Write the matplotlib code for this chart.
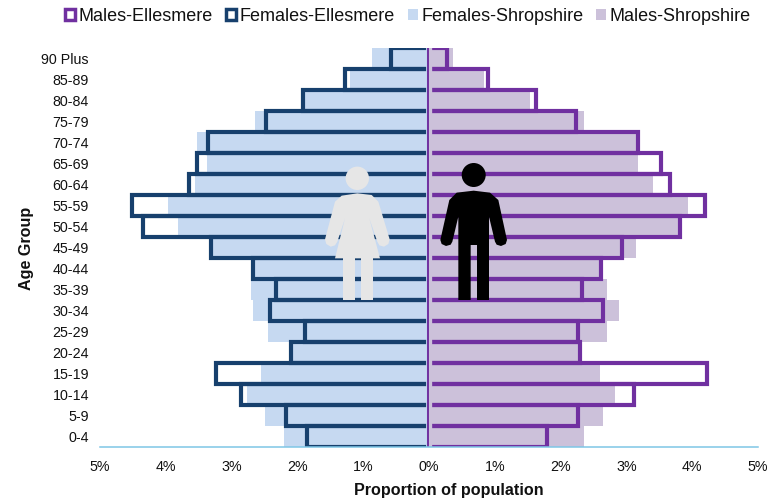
import matplotlib
matplotlib.use("Agg")
import matplotlib.pyplot as plt
from matplotlib.patches import Polygon, Circle, Rectangle
from matplotlib.ticker import FuncFormatter

plt.rcParams['font.family'] = ['Liberation Sans', 'DejaVu Sans']

age_groups = ['0-4','5-9','10-14','15-19','20-24','25-29','30-34','35-39','40-44','45-49',
              '50-54','55-59','60-64','65-69','70-74','75-79','80-84','85-89','90 Plus']
females_shropshire = [2.21,2.50,2.76,2.55,2.09,2.45,2.67,2.71,2.65,3.30,3.81,3.96,3.56,3.37,3.52,2.65,1.88,1.20,0.86]
males_shropshire   = [2.35,2.64,2.83,2.60,2.27,2.70,2.88,2.70,2.59,3.14,3.78,3.93,3.41,3.17,3.14,2.35,1.54,0.84,0.37]
females_ellesmere  = [1.85,2.18,2.86,3.23,2.10,1.89,2.41,2.33,2.67,3.32,4.35,4.52,3.64,3.52,3.36,2.48,1.92,1.27,0.58]
males_ellesmere    = [1.79,2.27,3.12,4.22,2.30,2.26,2.65,2.33,2.62,2.93,3.81,4.20,3.67,3.52,3.18,2.23,1.62,0.90,0.28]

C_FS, C_MS = '#c6d9f1', '#ccc1da'
C_FE, C_ME = '#17406d', '#7030a0'
W, H = 772, 500
fig = plt.figure(figsize=(W/100, H/100), dpi=100)
ax = fig.add_axes([100/W, 1-447/H, 658/W, 399.5/H])
y = list(range(len(age_groups)))

ax.barh(y, [-v for v in females_shropshire], height=1, color=C_FS, label='Females-Shropshire', zorder=1)
ax.barh(y, males_shropshire, height=1, color=C_MS, label='Males-Shropshire', zorder=1)
ax.barh(y, [-v for v in females_ellesmere], height=1, facecolor='none', edgecolor=C_FE, linewidth=3.0,
        label='Females-Ellesmere', zorder=2)
ax.barh(y, males_ellesmere, height=1, facecolor='none', edgecolor=C_ME, linewidth=3.0,
        label='Males-Ellesmere', zorder=3)
ax.axvline(0.015, color=C_MS, lw=2.4, zorder=4)
ax.axvline(-0.035, color=C_FS, lw=2.0, zorder=4)
ax.axvline(-0.012, color=C_ME, lw=1.4, zorder=5)

ax.set_xlim(-5, 5)
ax.set_ylim(-0.5, 18.5)
ax.set_yticks(y, age_groups)
ax.set_xticks(range(-5, 6))
ax.xaxis.set_major_formatter(FuncFormatter(lambda v, p: f'{abs(v):.0f}%'))
ax.tick_params(axis='both', length=0, labelsize=10.3, colors='#111111')
ax.tick_params(axis='x', pad=9.5)
ax.tick_params(axis='y', pad=8)
for s in ['top', 'left', 'right']:
    ax.spines[s].set_visible(False)
ax.spines['bottom'].set_color('#7fc6e6')
ax.spines['bottom'].set_linewidth(1.1)
ax.spines['bottom'].set_zorder(6)

fig.text(449/W, 1-491/H, 'Proportion of population', ha='center', va='center',
         fontsize=11.6, fontweight='bold', color='#111111')
fig.text(26.5/W, 1-248/H, 'Age Group', rotation=90, ha='center', va='center',
         fontsize=11.6, fontweight='bold', color='#111111')

h = [Rectangle((0,0),1,1, facecolor='white', edgecolor=C_ME, linewidth=2.5),
     Rectangle((0,0),1,1, facecolor='white', edgecolor=C_FE, linewidth=2.5),
     Rectangle((0,0),1,1, facecolor=C_FS, edgecolor='none'),
     Rectangle((0,0),1,1, facecolor=C_MS, edgecolor='none')]
l = ['Males-Ellesmere', 'Females-Ellesmere', 'Females-Shropshire', 'Males-Shropshire']
leg = fig.legend(h, l, ncol=4, loc='center', bbox_to_anchor=(408/W, 1-16.5/H), frameon=False,
                 fontsize=13, handlelength=0.55, handleheight=0.6, handletextpad=0.2,
                 columnspacing=0.72, borderpad=0, labelcolor='#111111')

# decorative person icons, in pixel space of the zoomed reference crop
ov = fig.add_axes([0, 0, 1, 1], facecolor='none')
ov.set_xlim(0, W); ov.set_ylim(H, 0); ov.axis('off')
def z(pts):
    return [(300 + a/3, 150 + b/3) for a, b in pts]
GR = '#e6e6e6'
ov.add_patch(Circle((357.3, 178.3), 11.7, color=GR, lw=0))
ov.add_patch(Polygon(z([(172,130),(215,135),(235,155),(269,268),(265,282),(252,290),(238,286),(232,275),(208,205),
    (240,325),(105,325),(135,205),(112,275),(105,286),(92,290),(79,282),(75,268),(105,155),(125,137)]), color=GR, lw=0))
for a, b in [(128,164),(182,218)]:
    ov.add_patch(Polygon(z([(a,320),(b,320),(b,450),(a,450)]), color=GR, lw=0))
ov.add_patch(Circle((473.7, 175), 12, color='black', lw=0))
ov.add_patch(Polygon(z([(521,122),(570,128),(595,150),(621,270),(617,282),(603,288),(590,284),(585,275),(567,200),
    (567,450),(531,450),(531,285),(512,285),(512,450),(475,450),(475,200),(457,275),(452,284),(438,288),(425,282),
    (421,270),(448,150),(470,128)]), color='black', lw=0))

fig.savefig('out.png', dpi=100)
